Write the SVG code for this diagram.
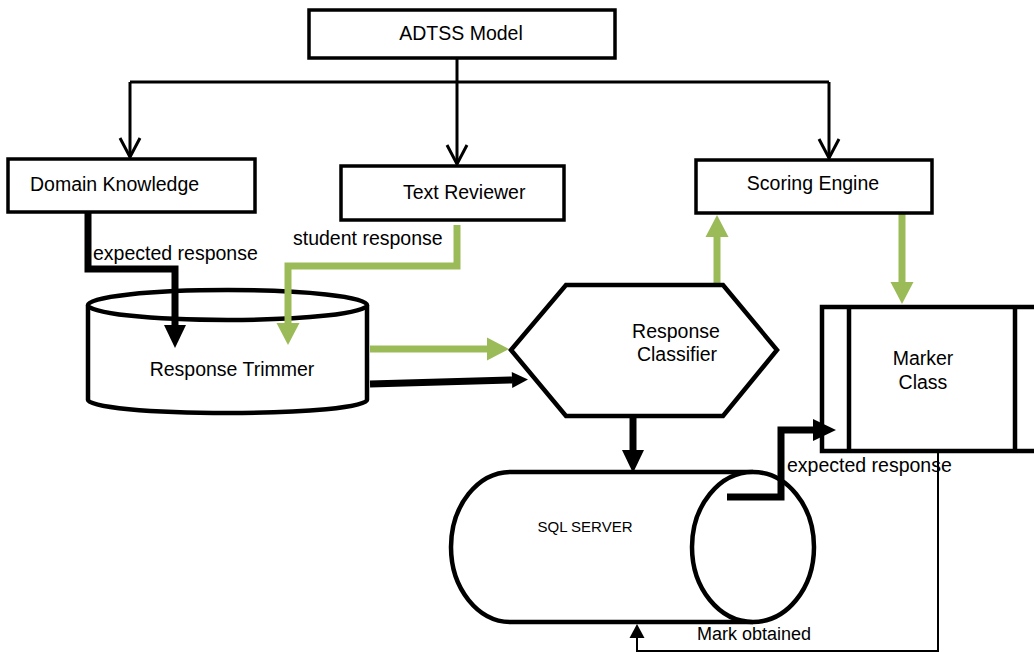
<svg xmlns="http://www.w3.org/2000/svg" width="1034" height="652" viewBox="0 0 1034 652">
<style>
  .box { fill: #fff; stroke: #000; stroke-width: 3.5; }
  .shape { fill: #fff; stroke: #000; stroke-width: 4.5; stroke-linejoin: miter; }
  .t { font-family: "Liberation Sans", Arial, sans-serif; font-size: 19.5px; fill: #000; }
  .mid { text-anchor: middle; }
  .thin { fill: none; stroke: #000; stroke-width: 3; }
  .hair { fill: none; stroke: #000; stroke-width: 2; }
  .thickK { fill: none; stroke: #000; stroke-width: 7; stroke-linejoin: miter; }
  .thickG { fill: none; stroke: #9bbb59; stroke-width: 7; stroke-linejoin: miter; }
</style>
<defs>
  <marker id="open" markerUnits="userSpaceOnUse" markerWidth="24" markerHeight="24" refX="19" refY="10" orient="auto" overflow="visible">
    <path d="M0,0 L19,10 L0,20" fill="none" stroke="#000" stroke-width="3"/>
  </marker>
  <marker id="headK" markerUnits="userSpaceOnUse" markerWidth="24" markerHeight="22" refX="0" refY="11" orient="auto" overflow="visible">
    <path d="M0,0 L23,11 L0,22 z" fill="#000"/>
  </marker>
  <marker id="headG" markerUnits="userSpaceOnUse" markerWidth="24" markerHeight="24" refX="0" refY="11.5" orient="auto" overflow="visible">
    <path d="M0,0 L22,11.5 L0,23 z" fill="#9bbb59"/>
  </marker>
  <marker id="headKm" markerUnits="userSpaceOnUse" markerWidth="18" markerHeight="18" refX="0" refY="8" orient="auto" overflow="visible">
    <path d="M0,0 L16,8 L0,16 z" fill="#000"/>
  </marker>
  <marker id="headS" markerUnits="userSpaceOnUse" markerWidth="16" markerHeight="16" refX="0" refY="7.5" orient="auto" overflow="visible">
    <path d="M0,0 L14,7.5 L0,15 z" fill="#000"/>
  </marker>
</defs>

<g id="connectors">
  <path class="thin" d="M457,58 L457,164" marker-end="url(#open)"/>
  <path class="thin" d="M130,82 L829,82"/>
  <path class="thin" d="M130,82 L130,157" marker-end="url(#open)"/>
  <path class="thin" d="M829,82 L829,158" marker-end="url(#open)"/>
  <path class="thickG" d="M370,349 L487,349" marker-end="url(#headG)"/>
  <path class="thickK" d="M370,384 L512,380" marker-end="url(#headKm)"/>
  <path class="thickG" d="M717,285 L717,237" marker-end="url(#headG)"/>
  <path class="thickG" d="M902,213 L902,282" marker-end="url(#headG)"/>
  <path class="thickK" d="M633,416 L633,450" marker-end="url(#headK)"/>
  <path class="hair" d="M938,451 L938,651 L637,651 L637,638" marker-end="url(#headS)"/>
</g>

<g id="adtss">
  <rect class="box" x="309" y="10" width="306" height="48"/>
  <text class="t mid" x="461" y="40">ADTSS Model</text>
</g>
<g id="domain">
  <rect class="box" x="8" y="159" width="247" height="53"/>
  <text class="t" x="30" y="191">Domain Knowledge</text>
</g>
<g id="reviewer">
  <rect class="box" x="341" y="166" width="223" height="54"/>
  <text class="t" x="403" y="199">Text Reviewer</text>
</g>
<g id="scoring">
  <rect class="box" x="696" y="160" width="236" height="53"/>
  <text class="t mid" x="813" y="190">Scoring Engine</text>
</g>
<g id="trimmer">
  <path class="shape" d="M88,305 L88,400 A139.5,13 0 0 0 367,400 L367,305"/>
  <ellipse class="shape" cx="227.5" cy="305" rx="139.5" ry="15"/>
  <text class="t mid" x="232" y="376">Response Trimmer</text>
</g>
<g id="classifier">
  <polygon class="shape" points="511,350 566,285 723,285 777,350 723,416 566,416"/>
  <text class="t mid" x="676" y="338">Response</text>
  <text class="t mid" x="677" y="361">Classifier</text>
</g>
<g id="marker">
  <rect class="shape" x="822" y="307" width="220" height="144"/>
  <line x1="849" y1="307" x2="849" y2="451" stroke="#000" stroke-width="4.5"/>
  <line x1="1015" y1="307" x2="1015" y2="451" stroke="#000" stroke-width="4.5"/>
  <text class="t mid" x="923" y="365">Marker</text>
  <text class="t mid" x="923" y="389">Class</text>
</g>
<g id="sqlserver">
  <path class="shape" d="M753,472 L511,472 A60,75 0 0 0 511,622 L753,622"/>
  <ellipse class="shape" cx="753" cy="547" rx="61" ry="75"/>
  <text class="mid" x="585" y="532" font-family="Liberation Sans, Arial, sans-serif" font-size="15">SQL SERVER</text>
</g>
<g id="connectors-over">
  <path class="thickK" d="M88,212 L88,269 L175,269 L175,325" marker-end="url(#headK)"/>
  <path class="thickG" d="M457,225 L457,266 L288,266 L288,323" marker-end="url(#headG)"/>
  <path class="thickK" d="M727,497 L781,497 L781,430 L813,430" marker-end="url(#headK)"/>
</g>
<g id="labels">
  <text class="t" x="93" y="260">expected response</text>
  <text class="t" x="293" y="245">student response</text>
  <text class="t" x="787" y="472">expected response</text>
  <text x="697" y="640" font-family="Liberation Sans, Arial, sans-serif" font-size="18">Mark obtained</text>
</g>
</svg>
